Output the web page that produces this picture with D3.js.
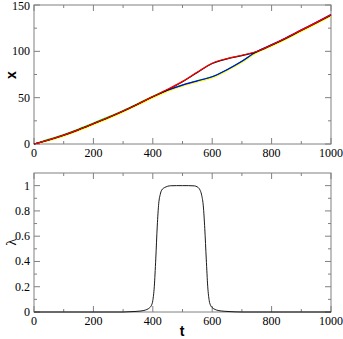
<!DOCTYPE html>
<html>
<head>
<meta charset="utf-8">
<script src="https://cdn.jsdelivr.net/npm/d3@7"></script>
<style>
  body { margin: 0; background: #fff; }
  svg { display: block; }
  .tick-label { font-family: "Times New Roman", "Liberation Serif", Times, "DejaVu Serif", serif; font-size: 12px; }
  .title { font-family: "Liberation Sans", Arial, sans-serif; font-weight: bold; font-size: 14px; }
  .greek { font-family: "Times New Roman", "Liberation Serif", Times, serif; font-size: 15px; }
</style>
</head>
<body>
<div id="chart"></div>
<script>
// time steps for the trajectories
var tSteps = [0, 50, 100, 150, 200, 250, 300, 350, 400, 450, 500, 550, 600, 650, 700, 750, 800, 850, 900, 950, 1000];

// x(t) of each coloured run
var xBlack  = [0, 4.3, 9.4, 15.3, 21.8, 28.4, 35.4, 43.0, 51.0, 58.6, 67.2, 77.2, 86.8, 91.8, 95.4, 99.4, 106.5, 114.2, 122.5, 130.6, 139.0];
var xRed    = [0, 4.5, 9.6, 15.5, 22.0, 28.6, 35.6, 43.2, 51.2, 59.0, 67.6, 77.6, 87.2, 92.2, 95.8, 99.8, 106.9, 114.6, 122.9, 131.0, 139.4];
var xGreen  = [0, 5.2, 10.3, 16.2, 22.7, 29.3, 36.2, 43.7, 51.6, 58.4, 63.8, 68.4, 72.8, 80.2, 89.2, 99.6, 106.8, 114.4, 122.7, 130.8, 139.2];
var xBlue   = [0, 4.5, 9.6, 15.5, 22.0, 28.6, 35.6, 43.2, 51.0, 58.0, 63.6, 68.2, 72.6, 80.2, 89.3, 99.8, 107.0, 114.7, 123.0, 131.2, 139.6];
var xViolet = [0, 4.3, 9.3, 15.2, 21.7, 28.3, 35.3, 42.9, 50.7, 57.7, 63.3, 67.9, 72.3, 79.9, 89.0, 99.6, 107.2, 114.9, 123.2, 131.4, 139.8];
var xYellow = [0, 3.6, 8.5, 14.3, 20.8, 27.4, 34.4, 42.0, 49.8, 56.8, 62.4, 67.0, 71.4, 79.0, 88.0, 98.4, 105.6, 113.2, 121.4, 129.5, 137.8];

var runs = [
  {name: "violet", color: "#a020f0", values: xViolet},
  {name: "yellow", color: "#ffff00", values: xYellow},
  {name: "green",  color: "#00ff00", values: xGreen},
  {name: "blue",   color: "#0000ff", values: xBlue},
  {name: "black",  color: "#000000", values: xBlack},
  {name: "red",    color: "#ff0000", values: xRed}
];

// lambda(t)
var tLam   = [0, 300, 320, 340, 360, 370, 380, 390, 395, 400, 405, 410, 415, 420, 425, 430, 440, 450, 460, 480, 500, 520, 540, 550, 555, 560, 565, 570, 575, 580, 585, 590, 595, 600, 610, 620, 640, 660, 680, 700, 1000];
var lamVal = [0, 0, 0.002, 0.004, 0.008, 0.012, 0.02, 0.035, 0.05, 0.09, 0.2, 0.42, 0.68, 0.86, 0.93, 0.965, 0.985, 0.995, 0.999, 1, 1, 1, 0.998, 0.99, 0.98, 0.96, 0.92, 0.84, 0.66, 0.42, 0.2, 0.09, 0.05, 0.035, 0.02, 0.012, 0.006, 0.003, 0.001, 0, 0];

var xTicks = [0, 200, 400, 600, 800, 1000];
var topTicks = [0, 50, 100, 150];
var botTicks = [0, 0.2, 0.4, 0.6, 0.8, 1];

var W = 343, H = 339;
var left = 34, right = 331;

var svg = d3.select("#chart").append("svg")
  .attr("width", W)
  .attr("height", H);

var x = d3.scaleLinear().domain([0, 1000]).range([left, right]);
var yTop = d3.scaleLinear().domain([0, 150]).range([144, 5]);
var yBot = d3.scaleLinear().domain([0, 1.1]).range([312, 173]);

var frameColor = "#808080";

// draws frame, inward ticks on all sides and the labels
function drawFrame(y, yMajor, yMinorStep) {
  var g = svg.append("g");
  var y0 = y.range()[0], y1 = y.range()[1];

  var xMinor = d3.range(100, 1000, 200);
  // bottom + top ticks
  xTicks.forEach(function(d) {
    g.append("line").attr("x1", x(d)).attr("x2", x(d)).attr("y1", y0).attr("y2", y0 - 6).attr("stroke", frameColor);
    g.append("line").attr("x1", x(d)).attr("x2", x(d)).attr("y1", y1).attr("y2", y1 + 6).attr("stroke", frameColor);
  });
  xMinor.forEach(function(d) {
    g.append("line").attr("x1", x(d)).attr("x2", x(d)).attr("y1", y0).attr("y2", y0 - 3).attr("stroke", frameColor);
    g.append("line").attr("x1", x(d)).attr("x2", x(d)).attr("y1", y1).attr("y2", y1 + 3).attr("stroke", frameColor);
  });
  // left + right ticks
  yMajor.forEach(function(d) {
    g.append("line").attr("x1", left).attr("x2", left + 6).attr("y1", y(d)).attr("y2", y(d)).attr("stroke", frameColor);
    g.append("line").attr("x1", right).attr("x2", right - 6).attr("y1", y(d)).attr("y2", y(d)).attr("stroke", frameColor);
  });
  d3.range(yMinorStep, y.domain()[1], yMinorStep * 2).forEach(function(d) {
    g.append("line").attr("x1", left).attr("x2", left + 3).attr("y1", y(d)).attr("y2", y(d)).attr("stroke", frameColor);
    g.append("line").attr("x1", right).attr("x2", right - 3).attr("y1", y(d)).attr("y2", y(d)).attr("stroke", frameColor);
  });

  g.append("rect")
    .attr("x", left).attr("y", y1)
    .attr("width", right - left).attr("height", y0 - y1)
    .attr("fill", "none").attr("stroke", frameColor);

  g.selectAll(".xl").data(xTicks).enter().append("text")
    .attr("class", "tick-label")
    .attr("x", function(d) { return x(d); })
    .attr("y", y0 + 13)
    .attr("text-anchor", "middle")
    .text(function(d) { return d; });

  g.selectAll(".yl").data(yMajor).enter().append("text")
    .attr("class", "tick-label")
    .attr("x", left - 4)
    .attr("y", function(d) { return Math.max(y(d) + 4, 10); })
    .attr("text-anchor", "end")
    .text(function(d) { return d; });
}

drawFrame(yTop, topTicks, 25);
drawFrame(yBot, botTicks, 0.1);

// top panel lines
var lineTop = d3.line()
  .x(function(d, i) { return x(tSteps[i]); })
  .y(function(d) { return yTop(d); })
  .curve(d3.curveMonotoneX);

svg.append("g").selectAll("path")
  .data(runs)
  .enter().append("path")
    .attr("d", function(d) { return lineTop(d.values); })
    .attr("fill", "none")
    .attr("stroke", function(d) { return d.color; })
    .attr("stroke-width", 1.2);

// bottom panel
var lineBot = d3.line()
  .x(function(d, i) { return x(tLam[i]); })
  .y(function(d) { return yBot(d); })
  .curve(d3.curveMonotoneX);

svg.append("path")
  .attr("d", lineBot(lamVal))
  .attr("fill", "none")
  .attr("stroke", "#000")
  .attr("stroke-width", 0.9);

// axis titles
svg.append("text")
  .attr("class", "title")
  .attr("transform", "translate(16,75) rotate(-90)")
  .attr("text-anchor", "middle")
  .text("x");

svg.append("text")
  .attr("class", "greek")
  .attr("transform", "translate(16,242) rotate(-90)")
  .attr("text-anchor", "middle")
  .text("λ");

svg.append("text")
  .attr("class", "title")
  .attr("x", 182)
  .attr("y", 336)
  .attr("text-anchor", "middle")
  .text("t");
</script>
</body>
</html>
